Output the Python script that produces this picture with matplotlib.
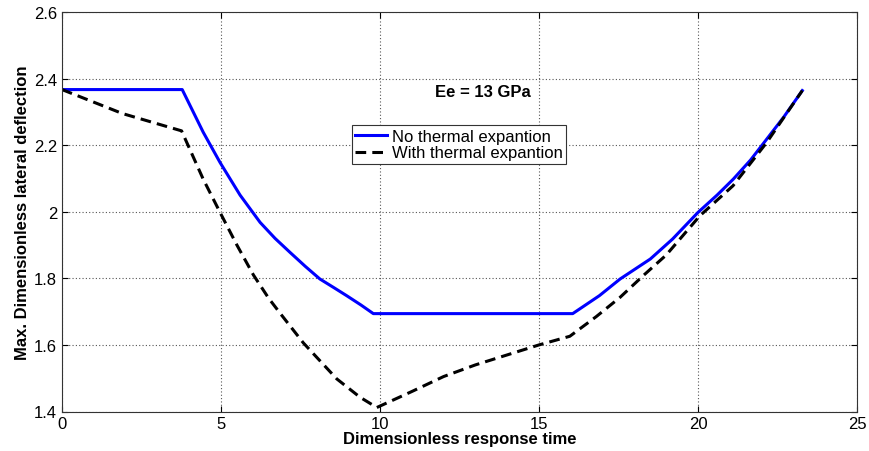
import matplotlib
matplotlib.use("Agg")
import matplotlib.pyplot as plt

plt.rcParams['font.family'] = ['Liberation Sans', 'DejaVu Sans']

# blue curve: no thermal expansion
t_no = [0, 3.78, 4.44, 4.97, 5.6, 6.23, 6.7, 7.17, 7.65, 8.11, 8.55, 8.95, 9.4, 9.79,
        16.06, 16.9, 17.55, 18.5, 19.2, 20.0, 20.6, 21.11, 21.65, 22.16, 22.7, 23.28]
d_no = [2.367, 2.367, 2.239, 2.148, 2.05, 1.968, 1.92, 1.878, 1.836, 1.798, 1.772, 1.748, 1.72, 1.694,
        1.694, 1.748, 1.798, 1.858, 1.918, 1.998, 2.05, 2.098, 2.155, 2.218, 2.285, 2.364]

# black dashed curve: with thermal expansion
t_th = [0, 1.9, 3.76, 4.44, 4.97, 5.5, 6.02, 6.5, 6.86, 7.59, 8.64, 9.37, 9.9,
        11.0, 12.0, 13.0, 14.0, 15.0, 15.97, 16.8, 17.55, 18.3, 19.0, 20.06, 21.1, 22.16, 23.28]
d_th = [2.367, 2.295, 2.243, 2.098, 1.998, 1.9, 1.81, 1.74, 1.695, 1.606, 1.498, 1.443, 1.412,
        1.46, 1.505, 1.54, 1.57, 1.6, 1.626, 1.685, 1.743, 1.81, 1.87, 1.988, 2.078, 2.208, 2.364]

labels = ['No thermal expantion', 'With thermal expantion']

fig = plt.figure(figsize=(8.69, 4.52), dpi=100)
ax = fig.add_axes([62 / 869, 1 - 412.5 / 452, 795 / 869, 399.5 / 452])

ax.plot(t_no, d_no, color='#0000ff', lw=2.2, label=labels[0])
ax.plot(t_th, d_th, color='black', lw=2.2, ls=(0, (3.5, 2)), label=labels[1])

ax.set_xlim(0, 25)
ax.set_ylim(1.4, 2.6)
ax.set_xticks([0, 5, 10, 15, 20, 25])
ax.set_yticks([1.4, 1.6, 1.8, 2.0, 2.2, 2.4, 2.6])
ax.set_yticklabels(['1.4', '1.6', '1.8', '2', '2.2', '2.4', '2.6'])
ax.tick_params(direction='in', top=True, right=True, labelsize=12, length=4)
ax.grid(True, ls=(0, (1, 2)), color='#555555', lw=0.8)
for s in ax.spines.values():
    s.set_color('#333333')

ax.set_xlabel('Dimensionless response time', fontsize=12, fontweight='bold', labelpad=0)
ax.set_ylabel('Max. Dimensionless lateral deflection', fontsize=12, fontweight='bold', labelpad=3)

ax.text(13.24, 2.36, 'Ee = 13 GPa', fontsize=12, fontweight='bold', ha='center', va='center')

leg = ax.legend(loc='upper left', bbox_to_anchor=(0.3645, 0.716), fontsize=12,
                fancybox=False, framealpha=1, edgecolor='#333333',
                handlelength=1.9, handletextpad=0.3, borderpad=0.2, labelspacing=0.1,
                borderaxespad=0)
leg.get_frame().set_linewidth(0.8)

fig.savefig('out.png', dpi=100)
